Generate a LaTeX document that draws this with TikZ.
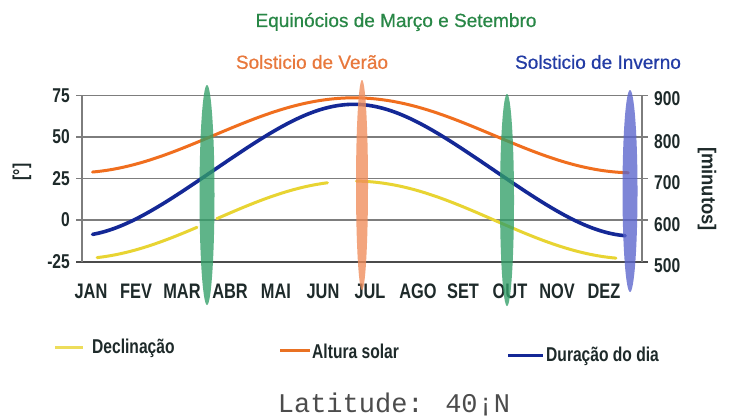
\documentclass[tikz,border=0pt]{standalone}
\usepackage{fontspec}
\setmainfont{Liberation Sans}
\newfontfamily\condfont[FakeStretch=0.78]{Liberation Sans}
\newfontfamily\widecond[FakeStretch=0.92]{Liberation Sans}
\newfontfamily\headfont[FakeBold=0.6]{Liberation Sans}
\newfontfamily\latmono{Liberation Mono}
\definecolor{cgreen}{RGB}{40,135,70}
\definecolor{corange}{RGB}{240,110,30}
\definecolor{torange}{RGB}{232,120,60}
\definecolor{cblue}{RGB}{20,40,150}
\definecolor{tblue}{RGB}{35,60,165}
\definecolor{cyellow}{RGB}{232,212,50}
\definecolor{gridc}{RGB}{125,125,125}
\definecolor{ink}{RGB}{30,42,42}
\definecolor{bandgreen}{RGB}{50,160,105}
\definecolor{bandorange}{RGB}{240,140,90}
\definecolor{bandblue}{RGB}{90,100,205}
\tikzset{
  gridline/.style={draw=gridc,line width=1.6pt},
  ticklbl/.style={font=\condfont\bfseries\fontsize{20}{20}\selectfont,text=ink,inner sep=0pt},
  monthlbl/.style={font=\condfont\bfseries\fontsize{21}{21}\selectfont,text=ink,inner sep=0pt},
  legendlbl/.style={font=\condfont\bfseries\fontsize{20}{20}\selectfont,text=ink,inner sep=0pt,anchor=west},
  headlbl/.style={font=\headfont\fontsize{19}{19}\selectfont,inner sep=0pt},
  curve/.style={line width=3pt,line cap=round,line join=round},
  band/.style={fill opacity=0.78,draw=none},
}
\begin{document}
\begin{tikzpicture}[x=1pt,y=-1pt]
\useasboundingbox (0,0) rectangle (730,418);
\fill[white] (0,0) rectangle (730,418);

% grid
\foreach \yy in {95.5,137,178.5,220}{\draw[gridline] (76,\yy) -- (648,\yy);}
\draw[draw=gridc!60!black,line width=2pt] (76,261.5) -- (648,261.5);
\draw[gridline] (82,95.5) -- (82,261.5);
\draw[gridline] (642,95.5) -- (642,261.5);

% left tick labels
\node[ticklbl,anchor=east] (l75) at (70,95.5) {75};
\node[ticklbl,anchor=east] (l50) at (70,137) {50};
\node[ticklbl,anchor=east] (l25) at (70,178.5) {25};
\node[ticklbl,anchor=east] (l0) at (70,220) {0};
\node[ticklbl,anchor=east] (lm25) at (70,261.5) {-25};
% right tick labels
\node[ticklbl,anchor=west] (r900) at (654,99) {900};
\node[ticklbl,anchor=west] (r800) at (654,142) {800};
\node[ticklbl,anchor=west] (r700) at (654,183) {700};
\node[ticklbl,anchor=west] (r600) at (654,225) {600};
\node[ticklbl,anchor=west] (r500) at (654,266) {500};

% axis titles
\node[ticklbl,rotate=90] (ydeg) at (22,172) {[°]};
\node[font=\widecond\bfseries\fontsize{20}{20}\selectfont,text=ink,inner sep=0pt,rotate=-90] (ymin) at (707,189) {[minutos]};

% months
\foreach \m/\xx in {JAN/91,FEV/136,MAR/182,ABR/230,MAI/276,JUN/323,JUL/370,AGO/418,SET/463,OUT/510,NOV/557,DEZ/604}{
  \node[monthlbl] (m\m) at (\xx,291) {\m};
}

% curves: x(day)=91+(day-1)*1.535 ; y(val)=220-1.66*val
% Altura solar
\draw[curve,draw=corange] plot[domain=2:351,samples=90,smooth]
  ({91+(\x-1)*1.535},{220-1.66*(51+22.6*sin(360/365*(284+\x)))});
% Declinacao
\draw[curve,draw=cyellow] plot[domain=5:70,samples=25,smooth]
  ({91+(\x-1)*1.535},{220-1.66*(23.45*sin(360/365*(284+\x)))});
\draw[curve,draw=cyellow] plot[domain=83:155,samples=30,smooth]
  ({91+(\x-1)*1.535},{220-1.66*(23.45*sin(360/365*(284+\x)))});
\draw[curve,draw=cyellow] plot[domain=174:343,samples=60,smooth]
  ({91+(\x-1)*1.535},{220-1.66*(23.45*sin(360/365*(284+\x)))});
% Duracao do dia
\draw[curve,draw=cblue,line width=3.6pt] plot[domain=2:349,samples=90,smooth]
  ({91+(\x-1)*1.535},{220-1.66*((720+0.93*(8*acos(-0.8391*tan(23.45*sin(360/365*(284+\x))))-720)-500)/4-25)});

% bands
\fill[band,fill=bandgreen] (207,195) ellipse [x radius=7.5,y radius=110];
\fill[band,fill=bandorange] (362,185) ellipse [x radius=6,y radius=105];
\fill[band,fill=bandgreen] (507,200) ellipse [x radius=7,y radius=106];
\fill[band,fill=bandblue] (630,191) ellipse [x radius=7.5,y radius=101];

% headings
\node[headlbl,text=cgreen] (teq) at (396,22) {Equinócios de Março e Setembro};
\node[headlbl,text=torange] (tver) at (312,62) {Solsticio de Verão};
\node[headlbl,text=tblue] (tinv) at (598,62) {Solsticio de Inverno};

% legend
\coordinate (ly1) at (55,347); \coordinate (ly2) at (83,347);
\draw[draw=cyellow!80!white,line width=3pt] (ly1) -- (ly2);
\node[legendlbl] (lgdec) at (92,348) {Declinação};
\coordinate (lo1) at (280,350); \coordinate (lo2) at (310,350);
\draw[draw=corange!85!brown,line width=3pt] (lo1) -- (lo2);
\node[legendlbl] (lgalt) at (312,351) {Altura solar};
\coordinate (lb1) at (508,355); \coordinate (lb2) at (543,355);
\draw[draw=cblue,line width=3pt] (lb1) -- (lb2);
\node[legendlbl] (lgdur) at (546,356) {Duração do dia};

% latitude
\node[font=\latmono\fontsize{27}{27}\selectfont,text=black!70,inner sep=0pt] (lat) at (394,404) {Latitude: 40¡N};
\end{tikzpicture}
\end{document}
